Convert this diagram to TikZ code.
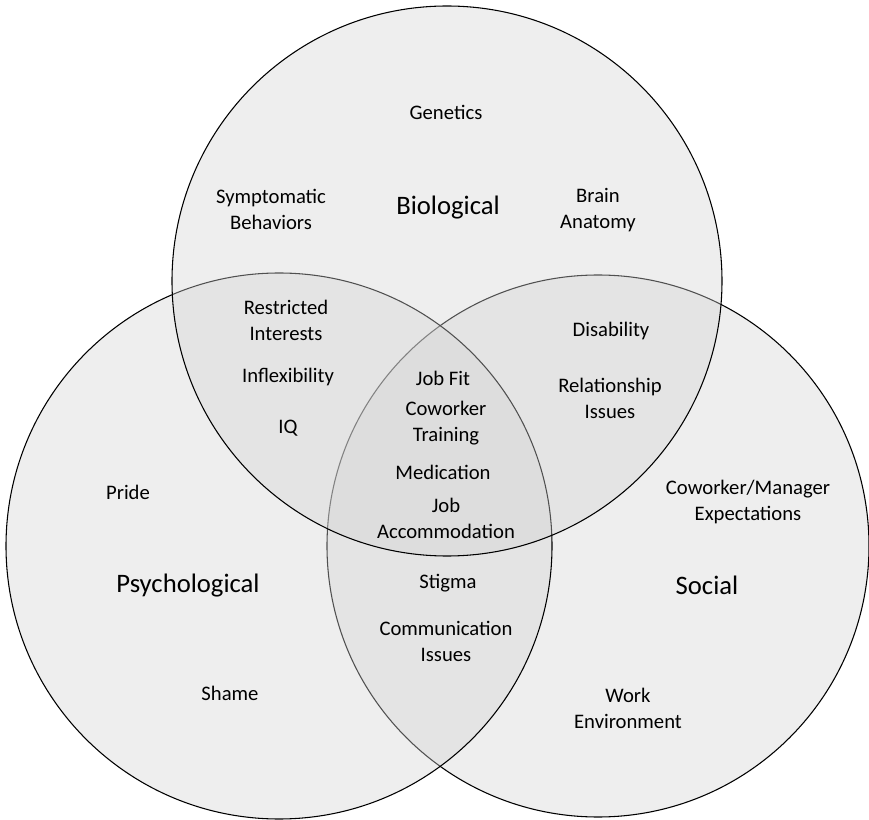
\documentclass[tikz,border=0pt]{standalone}
\usepackage{fontspec}
\setmainfont{Carlito}
\usepackage{xcolor}
\usepackage{tikz}
\usetikzlibrary{positioning}
\definecolor{venngray}{gray}{0.83}

\begin{document}
\begin{tikzpicture}[x=0.75pt, y=0.75pt,
    setcircle/.style={draw=black, line width=0.8pt, fill=venngray, fill opacity=0.38},
    item/.style={align=center, font=\fontsize{15.5}{19.5}\selectfont, text opacity=1},
    title/.style={align=center, font=\fontsize{20}{24}\selectfont, text opacity=1}]
  \useasboundingbox (0,0) rectangle (869,819);
  \coordinate (soc) at (598,273);
  \coordinate (psy) at (279,273);
  \coordinate (bio) at (447,538);

  \fill[white] (0,0) rectangle (869,819);
  \draw[setcircle] (soc) circle (271);
  \draw[setcircle] (psy) circle (273);
  \draw[setcircle] (bio) circle (275);

  % biological only
  \node[title] (biological) at (448,611) {Biological};
  \node[item] (genetics) at (446,707) {Genetics};
  \node[item] (symptoms) at (271,610) {Symptomatic\\Behaviors};
  \node[item] (brain) at (598,609) {Brain\\Anatomy};
  % biological + psychological
  \node[item] (restricted) at (286,499) {Restricted\\Interests};
  \node[item] (inflex) at (288,442) {Inflexibility};
  \node[item] (iq) at (288,391) {IQ};
  % biological + social
  \node[item] (disability) at (611,488) {Disability};
  \node[item] (relation) at (610,421) {Relationship\\Issues};
  % all three
  \node[item] (jobfit) at (443,441) {Job Fit};
  \node[item] (training) at (446,396) {Coworker\\Training};
  \node[item] (medication) at (443,347) {Medication};
  \node[item] (accommodation) at (446,301) {Job\\Accommodation};
  % psychological only
  \node[title] (psychological) at (188,233) {Psychological};
  \node[item] (pride) at (128,327) {Pride};
  \node[item] (shame) at (230,126) {Shame};
  % psychological + social
  \node[item] (stigma) at (448,236) {Stigma};
  \node[item] (communication) at (446,178) {Communication\\Issues};
  % social only
  \node[title] (social) at (707,234) {Social};
  \node[item] (expect) at (748,317) {Coworker/Manager\\Expectations};
  \node[item] (workenv) at (628,111) {Work\\Environment};
\end{tikzpicture}
\end{document}
